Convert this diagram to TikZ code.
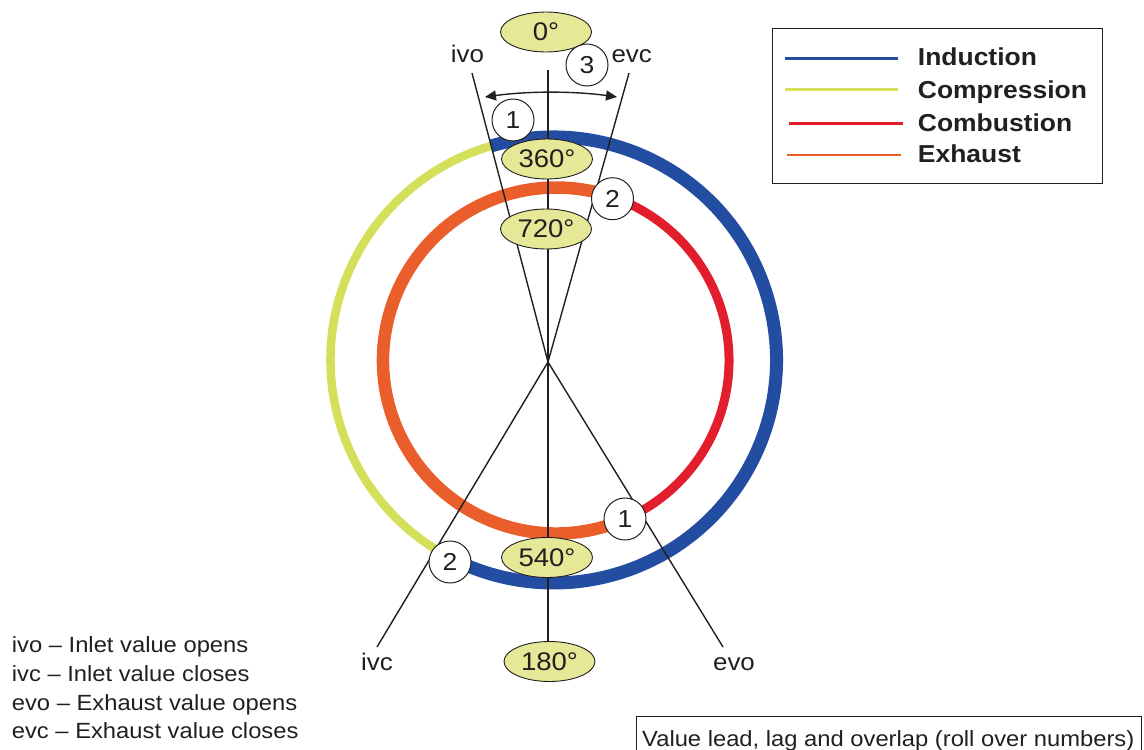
\documentclass[tikz,border=0pt]{standalone}
\usepackage{fontspec}
\setmainfont{Liberation Sans}[FakeStretch=1.08]
\usetikzlibrary{shapes.geometric,arrows.meta}
\definecolor{indblue}{HTML}{234DA0}
\definecolor{compgreen}{HTML}{D4DF5A}
\definecolor{combred}{HTML}{E31E2C}
\definecolor{exorange}{HTML}{E95E2B}
\definecolor{degfill}{HTML}{E5E897}
\definecolor{ink}{HTML}{231F20}
\begin{document}
\begin{tikzpicture}[x=1pt,y=-1pt,
  deg/.style={ellipse,draw=ink,line width=0.9pt,fill=degfill,minimum width=91pt,minimum height=40pt,inner sep=0pt,font=\fontsize{25.5}{28}\selectfont,text=ink},
  num/.style={circle,draw=ink,line width=1pt,fill=white,minimum size=42pt,inner sep=0pt,font=\fontsize{24.5}{28}\selectfont,text=ink},
  lbl/.style={font=\fontsize{24}{28}\selectfont,text=ink,inner sep=0pt,anchor=base},
  note/.style={font=\fontsize{22}{26}\selectfont,text=ink,inner sep=0pt,anchor=base west},
  legtxt/.style={font=\bfseries\fontsize{24.5}{28}\selectfont,text=ink,inner sep=0pt,anchor=base west},
  timing/.style={line width=1.4pt,draw=ink},
  overlap/.style={line width=1.4pt,draw=ink,{Triangle[length=11pt,width=10pt]}-{Triangle[length=11pt,width=10pt]}},
]
\useasboundingbox (0,0) rectangle (1144,750);

% stroke circles
\coordinate (Co) at (553.5,360);
\coordinate (Ci) at (556,360.5);
\draw[compgreen,line width=8.5pt] (Co) ++(-242.9:223) arc[start angle=-242.9,end angle=-106.2,radius=223];
\draw[indblue,line width=13pt] (Co) ++(-106.2:223) arc[start angle=-106.2,end angle=117.1,radius=223];
\draw[combred,line width=9pt] (Ci) ++(-70.75:173) arc[start angle=-70.75,end angle=66.5,radius=173];
\draw[exorange,line width=12.5pt] (Ci) ++(66.5:173) arc[start angle=66.5,end angle=289.25,radius=173];

% timing lines
\coordinate (C) at (548,362);
\coordinate (ivoE) at (472,73);
\coordinate (evcE) at (629,73);
\coordinate (ivcE) at (377,647);
\coordinate (evoE) at (723,647);
\coordinate (vtop) at (548,70);
\coordinate (vbot) at (548,645);
\draw[timing] (C) -- (ivoE);
\draw[timing] (C) -- (evcE);
\draw[timing] (C) -- (ivcE);
\draw[timing] (C) -- (evoE);
\draw[timing] (vtop) -- (vbot);

% degree ellipses
\node[deg] (d0) at (546,32) {0°};
\node[deg] (d360) at (547,159) {360°};
\node[deg] (d720) at (546,229) {720°};
\node[deg] (d540) at (547,557.5) {540°};
\node[deg] (d180) at (549.5,661.5) {180°};

% overlap arrow
\coordinate (aL) at (485,97);
\coordinate (aR) at (617,97);
\draw[overlap] (aL) .. controls (528,91) and (574,91) .. (aR);

% numbered markers
\node[num] (n3) at (587,65) {3};
\node[num] (n1a) at (513,120) {1};
\node[num] (n2a) at (612.5,198.7) {2};
\node[num] (n1b) at (625,519) {1};
\node[num] (n2b) at (450,562) {2};

% valve labels
\node[lbl] (tivo) at (467.5,62.7) {ivo};
\node[lbl] (tevc) at (631.7,62.7) {evc};
\node[lbl] (tivc) at (377,670) {ivc};
\node[lbl] (tevo) at (734,670) {evo};

% key text
\node[note] (k1) at (11.7,652.3) {ivo – Inlet value opens};
\node[note] (k2) at (11.7,681) {ivc – Inlet value closes};
\node[note] (k3) at (11.7,710) {evo – Exhaust value opens};
\node[note] (k4) at (11.7,738.3) {evc – Exhaust value closes};

% legend
\node[draw=ink,line width=0.9pt,minimum width=330pt,minimum height=155pt,inner sep=0pt] (legend) at (937.7,105.8) {};
\draw[indblue,line width=2.8pt] (785,58.3) -- (898,58.3);
\draw[compgreen,line width=2.8pt] (785,89.3) -- (898,89.3);
\draw[combred,line width=2.8pt] (789.3,123.3) -- (903.3,123.3);
\draw[exorange,line width=2.8pt] (787.3,155) -- (901,155);
\node[legtxt] (lg1) at (917.7,65.7) {Induction};
\node[legtxt] (lg2) at (917.7,98.3) {Compression};
\node[legtxt] (lg3) at (917.7,131) {Combustion};
\node[legtxt] (lg4) at (917.7,162.7) {Exhaust};

% caption box
\draw[ink,line width=1pt] (636.5,716.5) rectangle (1141.5,762);
\node[note] (cap) at (642,746) {Value lead, lag and overlap (roll over numbers)};
\end{tikzpicture}
\end{document}
